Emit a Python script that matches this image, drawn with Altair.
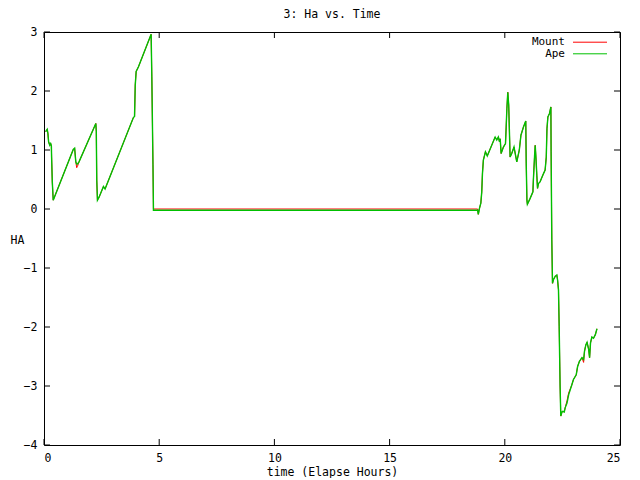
import altair as alt
import pandas as pd

chart_title = "3: Ha vs. Time"
x_title = "time (Elapse Hours)"
y_title = "HA"
series_names = ["Mount", "Ape"]
series_colors = ["#ff0000", "#00c000"]
x_ticks = [0, 5, 10, 15, 20, 25]
y_ticks = [-4, -3, -2, -1, 0, 1, 2, 3]

hours = [
    0.07, 0.14, 0.17, 0.20, 0.25, 0.29, 0.32, 0.33, 0.36, 0.40,
    1.27, 1.33, 1.38, 1.42, 1.45, 1.52, 2.25, 2.27, 2.29, 2.32,
    2.39, 2.58, 2.65, 3.88, 3.93, 3.96, 4.00, 4.10, 4.65, 4.68,
    4.73, 4.75, 18.82, 18.85, 18.90, 18.96, 19.00, 19.03, 19.07, 19.16,
    19.24, 19.58, 19.65, 19.72, 19.77, 19.80, 19.84, 19.94, 20.03, 20.06,
    20.09, 20.13, 20.17, 20.23, 20.30, 20.40, 20.52, 20.63, 20.70, 20.81,
    20.91, 20.93, 20.96, 20.98, 21.10, 21.22, 21.24, 21.29, 21.32, 21.35,
    21.39, 21.42, 21.46, 21.53, 21.68, 21.75, 21.80, 21.83, 21.87, 21.94,
    22.00, 22.01, 22.04, 22.07, 22.11, 22.19, 22.26, 22.29, 22.33, 22.36,
    22.40, 22.43, 22.48, 22.52, 22.58, 22.62, 22.70, 22.77, 22.91, 22.98,
    23.10, 23.16, 23.24, 23.35, 23.42, 23.46, 23.52, 23.57, 23.64, 23.68,
    23.72, 23.78, 23.85, 23.93, 24.00,
]

ha_ape = [
    1.31, 1.35, 1.28, 1.14, 1.08, 1.11, 1.07, 0.88, 0.46, 0.15,
    1.01, 1.03, 0.80, 0.76, 0.76, 0.80, 1.45, 1.31, 0.49, 0.15,
    0.20, 0.38, 0.34, 1.55, 1.57, 2.10, 2.33, 2.41, 2.96, 2.24,
    0.75, -0.02, -0.02, -0.09, 0.01, 0.10, 0.29, 0.60, 0.83, 0.97,
    0.90, 1.22, 1.17, 1.22, 1.14, 1.19, 0.94, 1.05, 1.11, 1.39,
    1.70, 1.98, 1.76, 0.88, 0.94, 1.05, 0.80, 1.00, 1.25, 1.39,
    1.49, 0.77, 0.15, 0.08, 0.18, 0.29, 0.49, 0.88, 1.08, 0.88,
    0.57, 0.35, 0.43, 0.46, 0.60, 0.66, 0.88, 1.36, 1.56, 1.62,
    1.73, 0.97, -0.52, -1.26, -1.20, -1.14, -1.12, -1.20, -1.37, -1.99,
    -3.00, -3.51, -3.44, -3.43, -3.44, -3.37, -3.29, -3.15, -2.98, -2.89,
    -2.81, -2.67, -2.58, -2.52, -2.55, -2.41, -2.30, -2.26, -2.38, -2.52,
    -2.27, -2.17, -2.19, -2.13, -2.03,
]

ha_mount = [
    1.31, 1.35, 1.28, 1.14, 1.08, 1.11, 1.07, 0.88, 0.46, 0.15,
    1.01, 1.03, 0.80, 0.70, 0.72, 0.80, 1.45, 1.31, 0.49, 0.15,
    0.20, 0.38, 0.34, 1.55, 1.57, 2.10, 2.33, 2.41, 2.96, 2.24,
    0.75, 0.00, 0.00, -0.09, 0.01, 0.10, 0.29, 0.60, 0.83, 0.97,
    0.90, 1.22, 1.17, 1.22, 1.14, 1.19, 0.94, 1.05, 1.11, 1.39,
    1.70, 1.98, 1.76, 0.88, 0.94, 1.05, 0.80, 1.00, 1.25, 1.39,
    1.49, 0.77, 0.15, 0.08, 0.18, 0.29, 0.49, 0.88, 1.08, 0.88,
    0.57, 0.35, 0.43, 0.46, 0.60, 0.66, 0.88, 1.36, 1.56, 1.62,
    1.73, 0.97, -0.52, -1.26, -1.20, -1.14, -1.12, -1.20, -1.37, -1.99,
    -3.00, -3.51, -3.44, -3.43, -3.44, -3.37, -3.25, -3.12, -2.98, -2.89,
    -2.81, -2.67, -2.58, -2.52, -2.60, -2.41, -2.30, -2.26, -2.38, -2.52,
    -2.27, -2.17, -2.19, -2.13, -2.03,
]

FONT = "DejaVu Sans Mono"
FS = 11.5
W, H = 576, 413

xscale = alt.Scale(domain=[0, 25], nice=False, zero=False)
yscale = alt.Scale(domain=[-4, 3], nice=False, zero=False)

df_mount = pd.DataFrame({"t": hours, "v": ha_mount})
df_ape = pd.DataFrame({"t": hours, "v": ha_ape})

x_axis = alt.Axis(
    values=x_ticks, ticks=False, domain=False, grid=False, format="d",
    labelFont=FONT, labelFontSize=FS, labelColor="black", labelPadding=7,
    title=x_title, titleFont=FONT, titleFontSize=FS, titleFontWeight="normal",
    titleColor="black", titleX=W / 2, titleY=27, titleAlign="center",
    titleBaseline="middle",
)
y_axis = alt.Axis(
    values=y_ticks, ticks=False, domain=False, grid=False, format="d",
    labelFont=FONT, labelFontSize=FS, labelColor="black", labelPadding=7,
    title=y_title, titleFont=FONT, titleFontSize=FS, titleFontWeight="normal",
    titleColor="black", titleAngle=0, titleX=-27, titleY=208,
    titleAlign="center", titleBaseline="middle",
)

X = lambda f: alt.X(f, scale=xscale, axis=x_axis)
Y = lambda f: alt.Y(f, scale=yscale, axis=y_axis)

mount_line = alt.Chart(df_mount).mark_line(
    color=series_colors[0], strokeWidth=1, interpolate="linear"
).encode(x=X("t:Q"), y=Y("v:Q"), order="t:Q")
ape_line = alt.Chart(df_ape).mark_line(
    color=series_colors[1], strokeWidth=1.4, interpolate="linear"
).encode(x=X("t:Q"), y=Y("v:Q"), order="t:Q")

dfx = pd.DataFrame({"t": x_ticks})
dfy = pd.DataFrame({"v": y_ticks})
xt_bottom = alt.Chart(dfx).mark_rule(color="black", strokeWidth=1).encode(
    x=X("t:Q"), y=alt.value(H), y2=alt.value(H - 6))
xt_top = alt.Chart(dfx).mark_rule(color="black", strokeWidth=1).encode(
    x=X("t:Q"), y=alt.value(0), y2=alt.value(6))
yt_left = alt.Chart(dfy).mark_rule(color="black", strokeWidth=1).encode(
    y=Y("v:Q"), x=alt.value(0), x2=alt.value(6))
yt_right = alt.Chart(dfy).mark_rule(color="black", strokeWidth=1).encode(
    y=Y("v:Q"), x=alt.value(W), x2=alt.value(W - 6))

title_mark = alt.Chart(pd.DataFrame({"s": [chart_title]})).mark_text(
    font=FONT, fontSize=FS, color="black", align="center", baseline="middle"
).encode(text="s:N", x=alt.value(W / 2), y=alt.value(-17))

legend_layers = []
for i, (name, col) in enumerate(zip(series_names, series_colors)):
    yy = 10.2 + i * 11.6
    legend_layers.append(
        alt.Chart(pd.DataFrame({"s": [name]})).mark_text(
            font=FONT, fontSize=11, color="black", align="right", baseline="middle"
        ).encode(text="s:N", x=alt.value(521), y=alt.value(yy))
    )
    legend_layers.append(
        alt.Chart(pd.DataFrame({"s": [name]})).mark_rule(color=col, strokeWidth=1).encode(
            x=alt.value(529), x2=alt.value(563), y=alt.value(yy))
    )

chart = alt.layer(
    mount_line, ape_line, xt_bottom, xt_top, yt_left, yt_right, title_mark,
    *legend_layers
).properties(
    width=W, height=H,
    background="white",
    autosize=alt.AutoSizeParams(type="none"),
    padding={"left": 36, "top": 24, "right": 4, "bottom": 33},
).configure_view(
    stroke="black", strokeWidth=1
)

chart.save("out.html", embed_options={"renderer": "svg", "actions": False})
